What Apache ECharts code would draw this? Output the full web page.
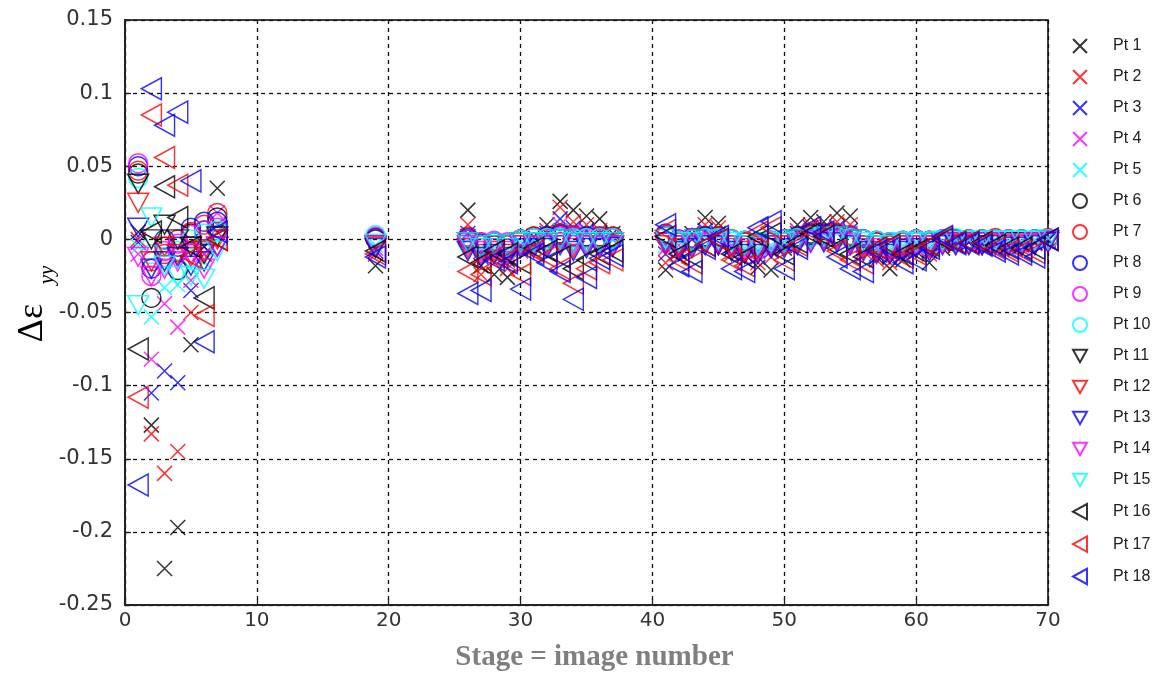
<!DOCTYPE html>
<html>
<head>
<meta charset="utf-8">
<script src="https://cdn.jsdelivr.net/npm/echarts@6/dist/echarts.min.js"></script>
<style>
html,body{margin:0;padding:0;background:#fff;}
#chart{width:1164px;height:675px;}
</style>
</head>
<body>
<div id="chart"></div>
<script>
// Stage (image number) for every measurement
const STAGES = [1,2,3,4,5,6,7, 19, 26,27,28,29,30,31,32,33,34,35,36,37,
  41,42,43,44,45,46,47,48,49,50,51,52,53,54,55,56,57,58,59,60,61,62,63,64,65,66,67,68,69,70];

const X_TICKS = [0,10,20,30,40,50,60,70];
const Y_TICKS = [-0.25,-0.2,-0.15,-0.1,-0.05,0,0.05,0.1,0.15];

const NAMES = ['Pt 1','Pt 2','Pt 3','Pt 4','Pt 5','Pt 6','Pt 7','Pt 8','Pt 9','Pt 10',
  'Pt 11','Pt 12','Pt 13','Pt 14','Pt 15','Pt 16','Pt 17','Pt 18'];

// Δε_yy per point (order matches STAGES)
const pt1 = [0.005,-0.127,-0.225,-0.197,-0.072,-0.005,0.035, -0.018,
  0.020,-0.018,-0.024,-0.026,-0.004,0.002,0.010,0.026,0.020,0.016,0.014,0.004,
  -0.021,-0.008,0.004,0.015,0.011,-0.006,-0.010,-0.019,-0.021,-0.006,0.010,0.015,0.012,0.018,0.016,-0.004,-0.012,-0.020,-0.014,-0.008,-0.016,-0.006,-0.004,-0.002,-0.003,-0.002,-0.004,-0.003,-0.002,-0.001];
const pt2 = [0.000,-0.133,-0.160,-0.145,-0.050,-0.010,0.005, -0.010,
  0.010,-0.024,-0.016,-0.020,-0.008,-0.004,0.006,0.022,0.012,0.010,0.006,0.002,
  -0.016,-0.012,0.002,0.010,0.008,-0.010,-0.014,-0.016,-0.012,-0.004,0.006,0.010,0.008,0.012,0.010,-0.008,-0.014,-0.016,-0.010,-0.006,-0.010,-0.004,-0.003,-0.002,-0.004,-0.003,-0.005,-0.004,-0.003,0.000];
const pt3 = [-0.002,-0.105,-0.090,-0.098,-0.035,-0.005,0.010, -0.008,
  0.004,-0.012,-0.010,-0.014,-0.006,-0.002,0.004,0.014,0.008,0.006,0.004,0.000,
  -0.010,-0.008,0.000,0.006,0.004,-0.006,-0.010,-0.012,-0.008,-0.004,0.004,0.008,0.006,0.008,0.006,-0.006,-0.010,-0.012,-0.008,-0.004,-0.008,-0.003,-0.002,-0.002,-0.003,-0.002,-0.004,-0.003,-0.002,0.000];
const pt4 = [-0.010,-0.082,-0.044,-0.060,-0.028,-0.010,0.018, -0.006,
  0.002,-0.008,-0.008,-0.010,-0.004,0.000,0.002,0.010,0.006,0.004,0.002,0.000,
  -0.006,-0.004,0.002,0.004,0.002,-0.004,-0.008,-0.008,-0.006,-0.002,0.002,0.006,0.004,0.006,0.004,-0.004,-0.006,-0.008,-0.006,-0.002,-0.006,-0.002,-0.001,-0.001,-0.002,-0.001,-0.002,-0.002,-0.001,0.001];
const pt5 = [-0.005,-0.053,-0.033,-0.031,-0.020,-0.015,0.010, -0.004,
  0.000,-0.006,-0.006,-0.008,-0.002,0.000,0.002,0.006,0.004,0.002,0.002,0.000,
  -0.004,-0.002,0.002,0.002,0.002,-0.002,-0.006,-0.006,-0.004,-0.002,0.002,0.004,0.002,0.004,0.002,-0.002,-0.004,-0.006,-0.004,-0.002,-0.004,-0.001,0.000,0.000,-0.001,0.000,-0.001,-0.001,0.000,0.001];
const pt6 = [0.045,-0.040,-0.005,-0.021,0.004,0.006,0.015, 0.000,
  0.000,-0.004,-0.004,-0.006,0.000,0.002,0.002,0.004,0.002,0.002,0.002,0.002,
  0.002,-0.002,0.000,0.002,0.002,0.000,-0.002,-0.004,-0.002,0.000,0.002,0.004,0.004,0.004,0.002,0.000,-0.002,-0.004,-0.002,0.000,-0.002,0.000,0.000,0.000,0.000,0.000,0.000,0.000,0.000,0.000];
const pt7 = [0.047,-0.015,-0.010,0.000,0.005,0.010,0.018, 0.001,
  0.002,-0.002,-0.002,-0.004,0.000,0.002,0.002,0.004,0.003,0.002,0.002,0.002,
  0.003,-0.001,0.001,0.002,0.002,0.000,-0.002,-0.003,-0.001,0.000,0.002,0.003,0.003,0.004,0.003,0.000,-0.002,-0.003,-0.002,0.000,-0.001,0.000,0.000,0.000,0.000,0.001,0.000,0.000,0.000,0.001];
const pt8 = [0.050,-0.020,0.000,-0.005,0.008,0.012,0.012, 0.001,
  0.001,-0.003,-0.002,-0.003,0.000,0.001,0.002,0.003,0.002,0.002,0.001,0.001,
  0.004,0.000,0.001,0.002,0.001,0.000,-0.001,-0.002,-0.001,0.000,0.002,0.003,0.003,0.003,0.002,0.000,-0.001,-0.002,-0.001,0.000,-0.001,0.000,0.000,0.000,0.000,0.000,0.000,0.000,0.000,0.000];
const pt9 = [0.052,-0.025,-0.008,-0.003,0.003,0.006,0.008, 0.002,
  0.000,-0.002,-0.001,-0.002,0.000,0.001,0.001,0.002,0.002,0.001,0.001,0.001,
  0.003,0.000,0.001,0.001,0.001,0.000,-0.001,-0.002,-0.001,0.000,0.001,0.002,0.002,0.002,0.002,0.000,-0.001,-0.002,-0.001,0.000,-0.001,0.000,0.000,0.000,0.000,0.000,0.000,0.000,0.000,0.000];
const pt10 = [0.042,-0.010,-0.012,-0.008,0.000,0.004,0.006, 0.003,
  -0.002,-0.004,-0.002,-0.003,0.000,0.001,0.001,0.001,0.001,0.001,0.001,0.001,
  0.002,-0.001,0.000,0.001,0.001,0.000,-0.001,-0.002,-0.001,0.000,0.001,0.002,0.002,0.002,0.001,0.000,-0.001,-0.002,-0.001,0.000,-0.001,0.000,0.001,0.000,0.000,0.000,0.000,0.000,0.000,0.000];
const pt11 = [0.038,0.000,0.010,0.000,-0.005,-0.010,0.002, -0.004,
  -0.002,-0.006,-0.004,-0.006,-0.002,-0.002,-0.002,0.000,-0.002,-0.002,-0.002,-0.002,
  -0.002,-0.004,-0.002,0.000,-0.002,-0.004,-0.004,-0.006,-0.004,-0.002,0.000,0.000,0.000,0.002,0.000,-0.004,-0.004,-0.006,-0.004,-0.002,-0.004,-0.002,-0.002,-0.002,-0.002,-0.002,-0.002,-0.002,-0.002,-0.001];
const pt12 = [0.025,-0.015,-0.005,-0.010,-0.012,-0.008,0.000, -0.005,
  -0.006,-0.010,-0.008,-0.010,-0.004,-0.004,-0.004,-0.002,-0.006,-0.004,-0.004,-0.004,
  -0.004,-0.006,-0.004,-0.002,-0.004,-0.006,-0.008,-0.008,-0.006,-0.004,-0.002,-0.002,0.000,0.000,-0.002,-0.006,-0.008,-0.008,-0.006,-0.004,-0.006,-0.003,-0.003,-0.003,-0.004,-0.003,-0.004,-0.004,-0.003,-0.002];
const pt13 = [0.008,-0.020,-0.015,-0.012,-0.018,-0.015,-0.005, -0.006,
  -0.008,-0.012,-0.010,-0.012,-0.006,-0.006,-0.006,-0.004,-0.008,-0.006,-0.006,-0.005,
  -0.002,-0.008,-0.006,-0.004,-0.004,-0.008,-0.010,-0.010,-0.006,-0.006,-0.004,-0.002,-0.002,-0.002,-0.004,-0.008,-0.010,-0.010,-0.008,-0.006,-0.008,-0.004,-0.004,-0.004,-0.004,-0.004,-0.005,-0.005,-0.004,-0.002];
const pt14 = [-0.012,-0.025,-0.020,-0.015,-0.010,-0.020,-0.005, -0.004,
  -0.004,-0.008,-0.006,-0.008,-0.004,-0.004,-0.004,-0.002,-0.004,-0.004,-0.004,-0.004,
  -0.002,-0.004,-0.004,-0.002,-0.002,-0.004,-0.006,-0.006,-0.004,-0.004,-0.002,-0.002,0.000,0.000,-0.002,-0.004,-0.006,-0.006,-0.004,-0.004,-0.004,-0.003,-0.002,-0.002,-0.002,-0.002,-0.003,-0.003,-0.002,-0.001];
const pt15 = [-0.045,0.015,-0.018,-0.025,-0.025,-0.027,-0.008, -0.003,
  -0.002,-0.006,-0.004,-0.006,-0.002,-0.002,-0.002,0.000,-0.002,-0.002,-0.002,-0.002,
  0.000,-0.002,-0.002,0.000,0.000,-0.002,-0.004,-0.004,-0.002,-0.002,0.000,0.000,0.002,0.002,0.000,-0.002,-0.004,-0.004,-0.002,-0.002,-0.002,-0.001,-0.001,-0.001,-0.001,-0.001,-0.001,-0.001,-0.001,0.000];
const pt16 = [-0.075,0.005,0.036,0.015,-0.005,-0.040,0.000, -0.008,
  -0.012,-0.016,-0.008,-0.010,-0.016,-0.006,-0.008,-0.012,-0.020,-0.014,-0.010,-0.008,
  0.002,-0.010,-0.012,-0.004,0.000,-0.010,-0.012,0.002,0.004,-0.010,-0.002,0.004,0.002,-0.006,-0.010,-0.012,-0.006,-0.004,-0.010,-0.008,-0.004,0.000,-0.002,-0.002,-0.002,-0.004,-0.006,-0.006,-0.006,0.000];
const pt17 = [-0.108,0.085,0.056,0.037,-0.012,-0.052,0.000, -0.010,
  -0.022,-0.024,-0.012,-0.014,-0.024,-0.008,-0.012,-0.020,-0.030,-0.020,-0.016,-0.014,
  0.006,-0.014,-0.016,-0.004,0.000,-0.014,-0.018,0.005,0.008,-0.014,-0.004,0.006,0.004,-0.008,-0.014,-0.016,-0.006,-0.004,-0.012,-0.010,-0.004,0.001,-0.002,-0.002,-0.003,-0.006,-0.008,-0.008,-0.009,0.000];
const pt18 = [-0.168,0.103,0.078,0.087,0.040,-0.070,0.005, -0.012,
  -0.037,-0.035,-0.014,-0.016,-0.034,-0.010,-0.016,-0.022,-0.041,-0.026,-0.013,-0.011,
  0.010,-0.018,-0.022,-0.006,0.002,-0.020,-0.022,0.008,0.012,-0.020,-0.006,0.008,0.005,-0.012,-0.020,-0.022,-0.008,-0.006,-0.016,-0.014,-0.006,0.002,-0.003,-0.003,-0.004,-0.008,-0.010,-0.010,-0.012,0.000];

const VALUES = [pt1,pt2,pt3,pt4,pt5,pt6,pt7,pt8,pt9,pt10,pt11,pt12,pt13,pt14,pt15,pt16,pt17,pt18];

const COLORS = ['#000000','#ff0000','#0000ff','#ff00ff','#00ffff'];
const SYMBOLS = [
  {sym:'path://M0,0L10,10M10,0L0,10', size:[15,15]},
  {sym:'circle', size:[19,19]},
  {sym:'path://M0,0L10,0L5,9Z', size:[21,19]},
  {sym:'path://M0,5.5L10,0L10,11Z', size:[20,22]}
];

const series = NAMES.map((name, i) => {
  const shape = SYMBOLS[Math.min(3, Math.floor(i / 5))];
  const color = COLORS[i % 5];
  return {
    name: name,
    type: 'scatter',
    data: STAGES.map((s, k) => [s, VALUES[i][k]]),
    symbol: shape.sym,
    symbolSize: shape.size,
    itemStyle: { color: 'rgba(0,0,0,0)', borderColor: color, borderWidth: 1.5 },
    emphasis: { disabled: true },
    z: 3 + i
  };
});

const chart = echarts.init(document.getElementById('chart'), null, {renderer: 'canvas'});
chart.setOption({
  animation: false,
  backgroundColor: '#ffffff',
  grid: { left: 125, right: 116, top: 20, bottom: 70, containLabel: false, outerBoundsMode: 'none',
    show: true, borderColor: '#000', borderWidth: 1.5, backgroundColor: 'transparent' },
  legend: {
    orient: 'vertical',
    left: 1067, top: 33,
    itemWidth: 14, itemHeight: 16, itemGap: 15.0,
    textStyle: { fontFamily: 'Liberation Sans', fontSize: 16, color: '#222', padding: [0,0,0,21] },
    data: NAMES
  },
  xAxis: {
    type: 'value', min: 0, max: 70, interval: 10,
    name: 'Stage = image number', nameLocation: 'middle', nameGap: 38,
    nameTextStyle: { fontFamily: 'Liberation Serif', fontWeight: 'bold', fontSize: 29, color: '#7f7f7f', padding: [0,0,0,16] },
    axisLine: { show: true, onZero: false, lineStyle: { color: '#222', width: 2 } },
    axisTick: { show: true, inside: true, length: 6, lineStyle: { color: '#222', width: 1.3 } },
    axisLabel: { fontFamily: 'DejaVu Sans', fontSize: 20, color: '#333', margin: 6,
      formatter: v => X_TICKS.includes(v) ? String(v) : '' },
    splitLine: { show: true, lineStyle: { color: '#111', type: [4,4], width: 1.3 } }
  },
  yAxis: {
    type: 'value', min: -0.25, max: 0.15, interval: 0.05,
    axisLine: { show: true, onZero: false, lineStyle: { color: '#222', width: 2 } },
    axisTick: { show: true, inside: true, length: 6, lineStyle: { color: '#222', width: 1.3 } },
    axisLabel: { fontFamily: 'DejaVu Sans', fontSize: 21, color: '#333', margin: 12,
      formatter: v => { const t = Y_TICKS.find(y => Math.abs(y - v) < 1e-9); return t === undefined ? '' : String(t); } },
    splitLine: { show: true, lineStyle: { color: '#111', type: [4,4], width: 1.3 } }
  },
  graphic: [
    { type: 'text', x: 33, y: 323, rotation: Math.PI / 2,
      style: { text: 'Δε', font: '36px "Liberation Serif"', fill: '#000', align: 'center', verticalAlign: 'middle' } },
    { type: 'text', x: 47, y: 275, rotation: Math.PI / 2,
      style: { text: 'yy', font: 'italic 21px "Liberation Serif"', fill: '#000', align: 'center', verticalAlign: 'middle' } }
  ],
  series: series
});
</script>
</body>
</html>
